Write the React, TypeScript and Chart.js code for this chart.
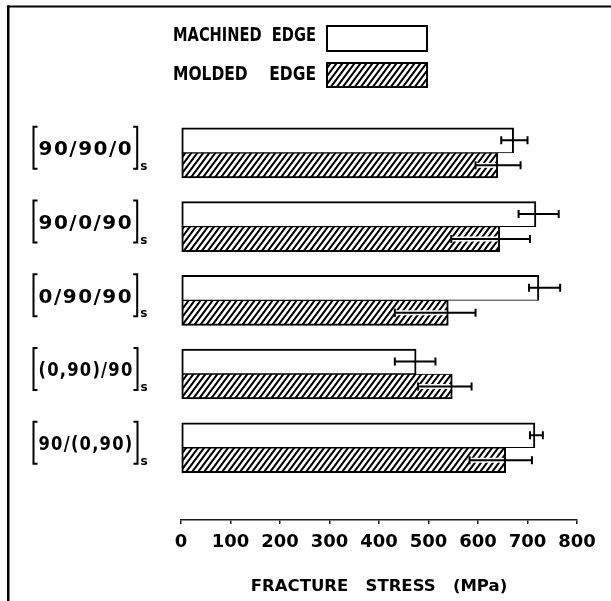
import React, { useEffect, useRef } from 'react';
import { Chart, registerables } from 'chart.js';

Chart.register(...registerables);

// ---- data ----
const categories = ['90/90/0', '90/0/90', '0/90/90', '(0,90)/90', '90/(0,90)'];
const categorySubscript = 's';
const seriesLabels = ['MACHINED  EDGE', 'MOLDED    EDGE'];
const machined = [672, 717, 723, 475, 715];
const machinedLow = [647, 682, 703, 432, 705];
const machinedHigh = [700, 763, 766, 514, 731];
const molded = [640, 644, 540, 548, 656];
const moldedLow = [595, 546, 432, 479, 583];
const moldedHigh = [686, 705, 595, 587, 709];
const xTickValues = [0, 100, 200, 300, 400, 500, 600, 700, 800];
const xAxisTitle = 'FRACTURE   STRESS   (MPa)';

const FONT = '"DejaVu Sans", "Liberation Sans", sans-serif';

function makeHatch(): CanvasPattern | string {
  const w = 6;
  const h = 8;
  const c = document.createElement('canvas');
  c.width = w;
  c.height = h;
  const g = c.getContext('2d');
  if (!g) return '#888';
  g.fillStyle = '#ffffff';
  g.fillRect(0, 0, w, h);
  g.strokeStyle = '#000000';
  g.lineWidth = 2;
  g.beginPath();
  for (let k = -1; k <= 1; k++) {
    const ox = k * w;
    g.moveTo(ox - w * 0.25, h + h * 0.25);
    g.lineTo(ox + w + w * 0.25, -h * 0.25);
  }
  g.stroke();
  const p = g.createPattern(c, 'repeat');
  return p || '#888';
}

const customPlugin = {
  id: 'customDecor',
  beforeDraw(chart: any) {
    const ctx = chart.ctx as CanvasRenderingContext2D;
    ctx.save();
    ctx.fillStyle = '#000';
    ctx.fillRect(7, 5.5, chart.width - 7, 2);
    ctx.fillRect(7, 5.5, 2.5, chart.height);
    ctx.restore();
  },
  afterDatasetsDraw(chart: any) {
    const ctx = chart.ctx as CanvasRenderingContext2D;
    const xs = chart.scales.x;
    const ranges = [
      [machinedLow, machinedHigh],
      [moldedLow, moldedHigh],
    ];
    ctx.save();
    ranges.forEach(([lo, hi], di) => {
      const meta = chart.getDatasetMeta(di);
      meta.data.forEach((bar: any, j: number) => {
        const y = bar.y;
        const x1 = xs.getPixelForValue(lo[j]);
        const x2 = xs.getPixelForValue(hi[j]);
        if (di === 1) {
          ctx.strokeStyle = '#fff';
          ctx.lineWidth = 5;
          ctx.beginPath();
          ctx.moveTo(x1, y);
          ctx.lineTo(Math.min(x2, bar.x - 2), y);
          ctx.stroke();
        }
        ctx.strokeStyle = '#000';
        ctx.lineWidth = 2;
        ctx.beginPath();
        ctx.moveTo(x1, y);
        ctx.lineTo(x2, y);
        ctx.moveTo(x1, y - 4);
        ctx.lineTo(x1, y + 4);
        ctx.moveTo(x2, y - 4);
        ctx.lineTo(x2, y + 4);
        ctx.stroke();
      });
    });
    ctx.restore();
  },
  afterDraw(chart: any) {
    const ctx = chart.ctx as CanvasRenderingContext2D;
    const ys = chart.scales.y;
    ctx.save();
    // legend (text left of the swatch)
    const boxes = [
      { y: 26, h: 25, ty: 36 },
      { y: 63, h: 24, ty: 75 },
    ];
    chart.data.datasets.forEach((ds: any, i: number) => {
      const b = boxes[i];
      ctx.font = `bold 19px ${FONT}`;
      ctx.fillStyle = '#000';
      ctx.textAlign = 'right';
      ctx.textBaseline = 'middle';
      ctx.fillText(ds.label, 316, b.ty, 143);
      ctx.fillStyle = ds.backgroundColor;
      ctx.fillRect(327, b.y, 100, b.h);
      ctx.strokeStyle = '#000';
      ctx.lineWidth = 2;
      ctx.strokeRect(327, b.y, 100, b.h);
    });
    // category labels with brackets and subscript
    categories.forEach((lab, i) => {
      const c = ys.getPixelForValue(i);
      const top = c - 26;
      const bot = c + 16;
      const lx = 33.5;
      ctx.font = `bold 20px ${FONT}`;
      (ctx as any).letterSpacing = '1.5px';
      ctx.textAlign = 'left';
      ctx.textBaseline = 'middle';
      ctx.fillStyle = '#000';
      const natural = ctx.measureText(lab).width;
      const tw = Math.min(natural, 95);
      ctx.fillText(lab, lx + 5, c - 3, 95);
      (ctx as any).letterSpacing = '0px';
      const rx = lx + 5 + tw + 4;
      ctx.strokeStyle = '#000';
      ctx.lineWidth = 2;
      ctx.beginPath();
      ctx.moveTo(lx + 4, top);
      ctx.lineTo(lx, top);
      ctx.lineTo(lx, bot);
      ctx.lineTo(lx + 4, bot);
      ctx.moveTo(rx - 4, top);
      ctx.lineTo(rx, top);
      ctx.lineTo(rx, bot);
      ctx.lineTo(rx - 4, bot);
      ctx.stroke();
      ctx.font = `bold 12px ${FONT}`;
      ctx.textBaseline = 'alphabetic';
      ctx.fillText(categorySubscript, rx + 3, bot + 1);
    });
    ctx.restore();
  },
};

export default function App() {
  const ref = useRef<HTMLCanvasElement | null>(null);

  useEffect(() => {
    if (!ref.current) return;
    const hatch = makeHatch();
    const chart = new Chart(ref.current, {
      type: 'bar',
      data: {
        datasets: [
          {
            label: seriesLabels[0],
            data: machined.map((v, i) => ({ x: v, y: i })),
            backgroundColor: '#ffffff',
            borderColor: '#000000',
            borderWidth: { top: 2, right: 2, bottom: 1, left: 2 },
            borderSkipped: false,
            barThickness: 25,
          },
          {
            label: seriesLabels[1],
            data: molded.map((v, i) => ({ x: v, y: i })),
            backgroundColor: hatch as any,
            borderColor: '#000000',
            borderWidth: { top: 1, right: 2, bottom: 2, left: 2 },
            borderSkipped: false,
            barThickness: 25,
          },
        ],
      } as any,
      options: {
        indexAxis: 'y',
        animation: false,
        responsive: true,
        maintainAspectRatio: false,
        layout: { padding: { left: 181, right: 34, top: 116, bottom: 0 } },
        plugins: {
          legend: { display: false },
          tooltip: { enabled: false },
        },
        scales: {
          y: {
            type: 'linear',
            min: -0.5,
            max: 4.98,
            reverse: true,
            offset: false,
            display: false,
          },
          x: {
            type: 'linear',
            position: 'bottom',
            min: 0,
            max: 800,
            afterBuildTicks: (s: any) => {
              s.ticks = xTickValues.map((v) => ({ value: v }));
            },
            afterFit: (s: any) => {
              s.height = 81;
            },
            border: { display: true, color: '#1a1a1a', width: 1.5 },
            grid: {
              display: true,
              drawOnChartArea: false,
              drawTicks: true,
              tickLength: 4,
              color: '#1a1a1a',
              lineWidth: 1.5,
            },
            ticks: {
              color: '#000',
              font: { family: FONT, size: 18, weight: 'bold' },
              padding: 8,
              maxRotation: 0,
              autoSkip: false,
            },
            title: {
              display: true,
              text: xAxisTitle,
              color: '#000',
              font: { family: FONT, size: 16.5, weight: 'bold' },
              padding: { top: 0, bottom: 4 },
            },
          },
        },
      } as any,
      plugins: [customPlugin],
    });
    return () => chart.destroy();
  }, []);

  return (
    <div style={{ position: 'fixed', left: 0, top: 0, width: 611, height: 601, background: '#fff' }}>
      <canvas ref={ref} />
    </div>
  );
}
